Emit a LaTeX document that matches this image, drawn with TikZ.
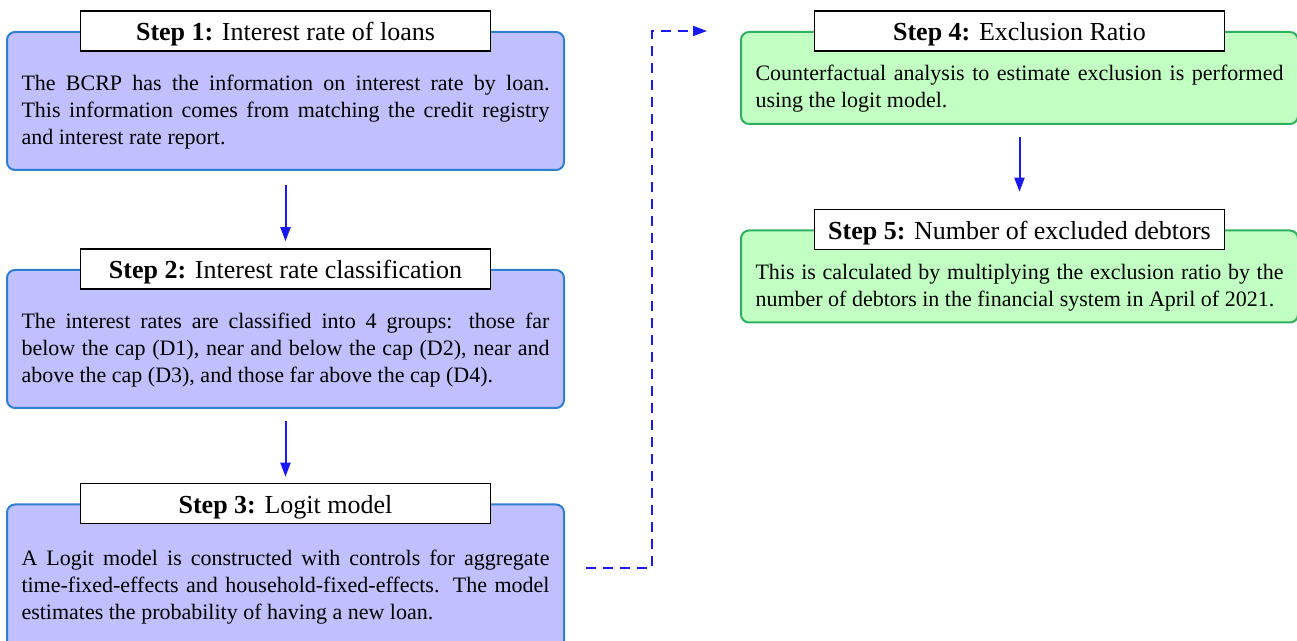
\documentclass[tikz,border=0pt]{standalone}
\usepackage{fontspec}
\setmainfont{Liberation Serif}
\usetikzlibrary{positioning,calc,arrows.meta}
\definecolor{boxblue}{HTML}{C0C0FF}
\definecolor{lineblue}{HTML}{2F7FCF}
\definecolor{boxgreen}{HTML}{C2FFC2}
\definecolor{linegreen}{HTML}{2EB060}
\definecolor{arrowblue}{HTML}{1A1AF0}

\begin{document}
\begin{tikzpicture}[x=0.5pt, y=-0.5pt,
    stepbox/.style={draw, rounded corners=4pt, line width=1pt, minimum width=278.5pt,
        text width=264pt, align=justify, font=\fontsize{11}{13.5}\selectfont,
        execute at begin node={\rule{0pt}{18.5pt}}},
    bluestep/.style={stepbox, fill=boxblue, draw=lineblue, minimum height=69pt},
    greenstep/.style={stepbox, fill=boxgreen, draw=linegreen, minimum height=46pt},
    titlebox/.style={draw, fill=white, line width=0.75pt, minimum width=205pt,
        minimum height=20pt, inner ysep=2pt, text height=11pt, text depth=1pt,
        font=\fontsize{13}{15}\selectfont},
    flow/.style={-{Triangle[length=7pt,width=5pt]}, arrowblue, line width=1pt}]
    \useasboundingbox (0,0) rectangle (1297,641);

    % Left column
    \node[bluestep] (s1) at (285.5,101) {The BCRP has the information on interest rate by loan.\linebreak
        This information comes from matching the credit registry\linebreak and interest rate report.};
    \node[bluestep, below=49pt of s1] (s2) {The interest rates are classified into 4 groups: those far\linebreak
        below the cap (D1), near and below the cap (D2), near and\linebreak
        above the cap (D3), and those far above the cap (D4).};
    \node[bluestep, below=47.25pt of s2, minimum height=72pt,
        execute at begin node={\rule{0pt}{8pt}}] (s3)
        {A Logit model is constructed with controls for aggregate\linebreak
        time-fixed-effects and household-fixed-effects. The model\linebreak
        estimates the probability of having a new loan.};

    % Right column
    \node[greenstep] (s4) at (1019.5,78) {Counterfactual analysis to estimate exclusion is performed
        using the logit model.};
    \node[greenstep, below=52.25pt of s4] (s5) {This is calculated by multiplying the exclusion ratio by the\linebreak
        number of debtors in the financial system in April of 2021.};

    % Titles
    \node[titlebox] (t1) at (s1.north) {\textbf{Step 1:} Interest rate of loans};
    \node[titlebox] (t2) at (s2.north) {\textbf{Step 2:} Interest rate classification};
    \node[titlebox] (t3) at (s3.north) {\textbf{Step 3:} Logit model};
    \node[titlebox] (t4) at (s4.north) {\textbf{Step 4:} Exclusion Ratio};
    \node[titlebox] (t5) at (s5.north) {\textbf{Step 5:} Number of excluded debtors};

    % Arrows
    \draw[flow, shorten <=7pt, shorten >=3.5pt] (s1.south) -- (t2.north);
    \draw[flow, shorten <=6pt, shorten >=3pt] (s2.south) -- (t3.north);
    \draw[flow, shorten <=6pt, shorten >=8.5pt] (s4.south) -- (t5.north);
    \draw[flow, dash pattern=on 5pt off 3.5pt]
        ([xshift=10.5pt, yshift=4pt]s3.east) -| ([xshift=-44pt]s4.north west)
        -- ([xshift=-16.5pt]s4.north west);
\end{tikzpicture}
\end{document}
